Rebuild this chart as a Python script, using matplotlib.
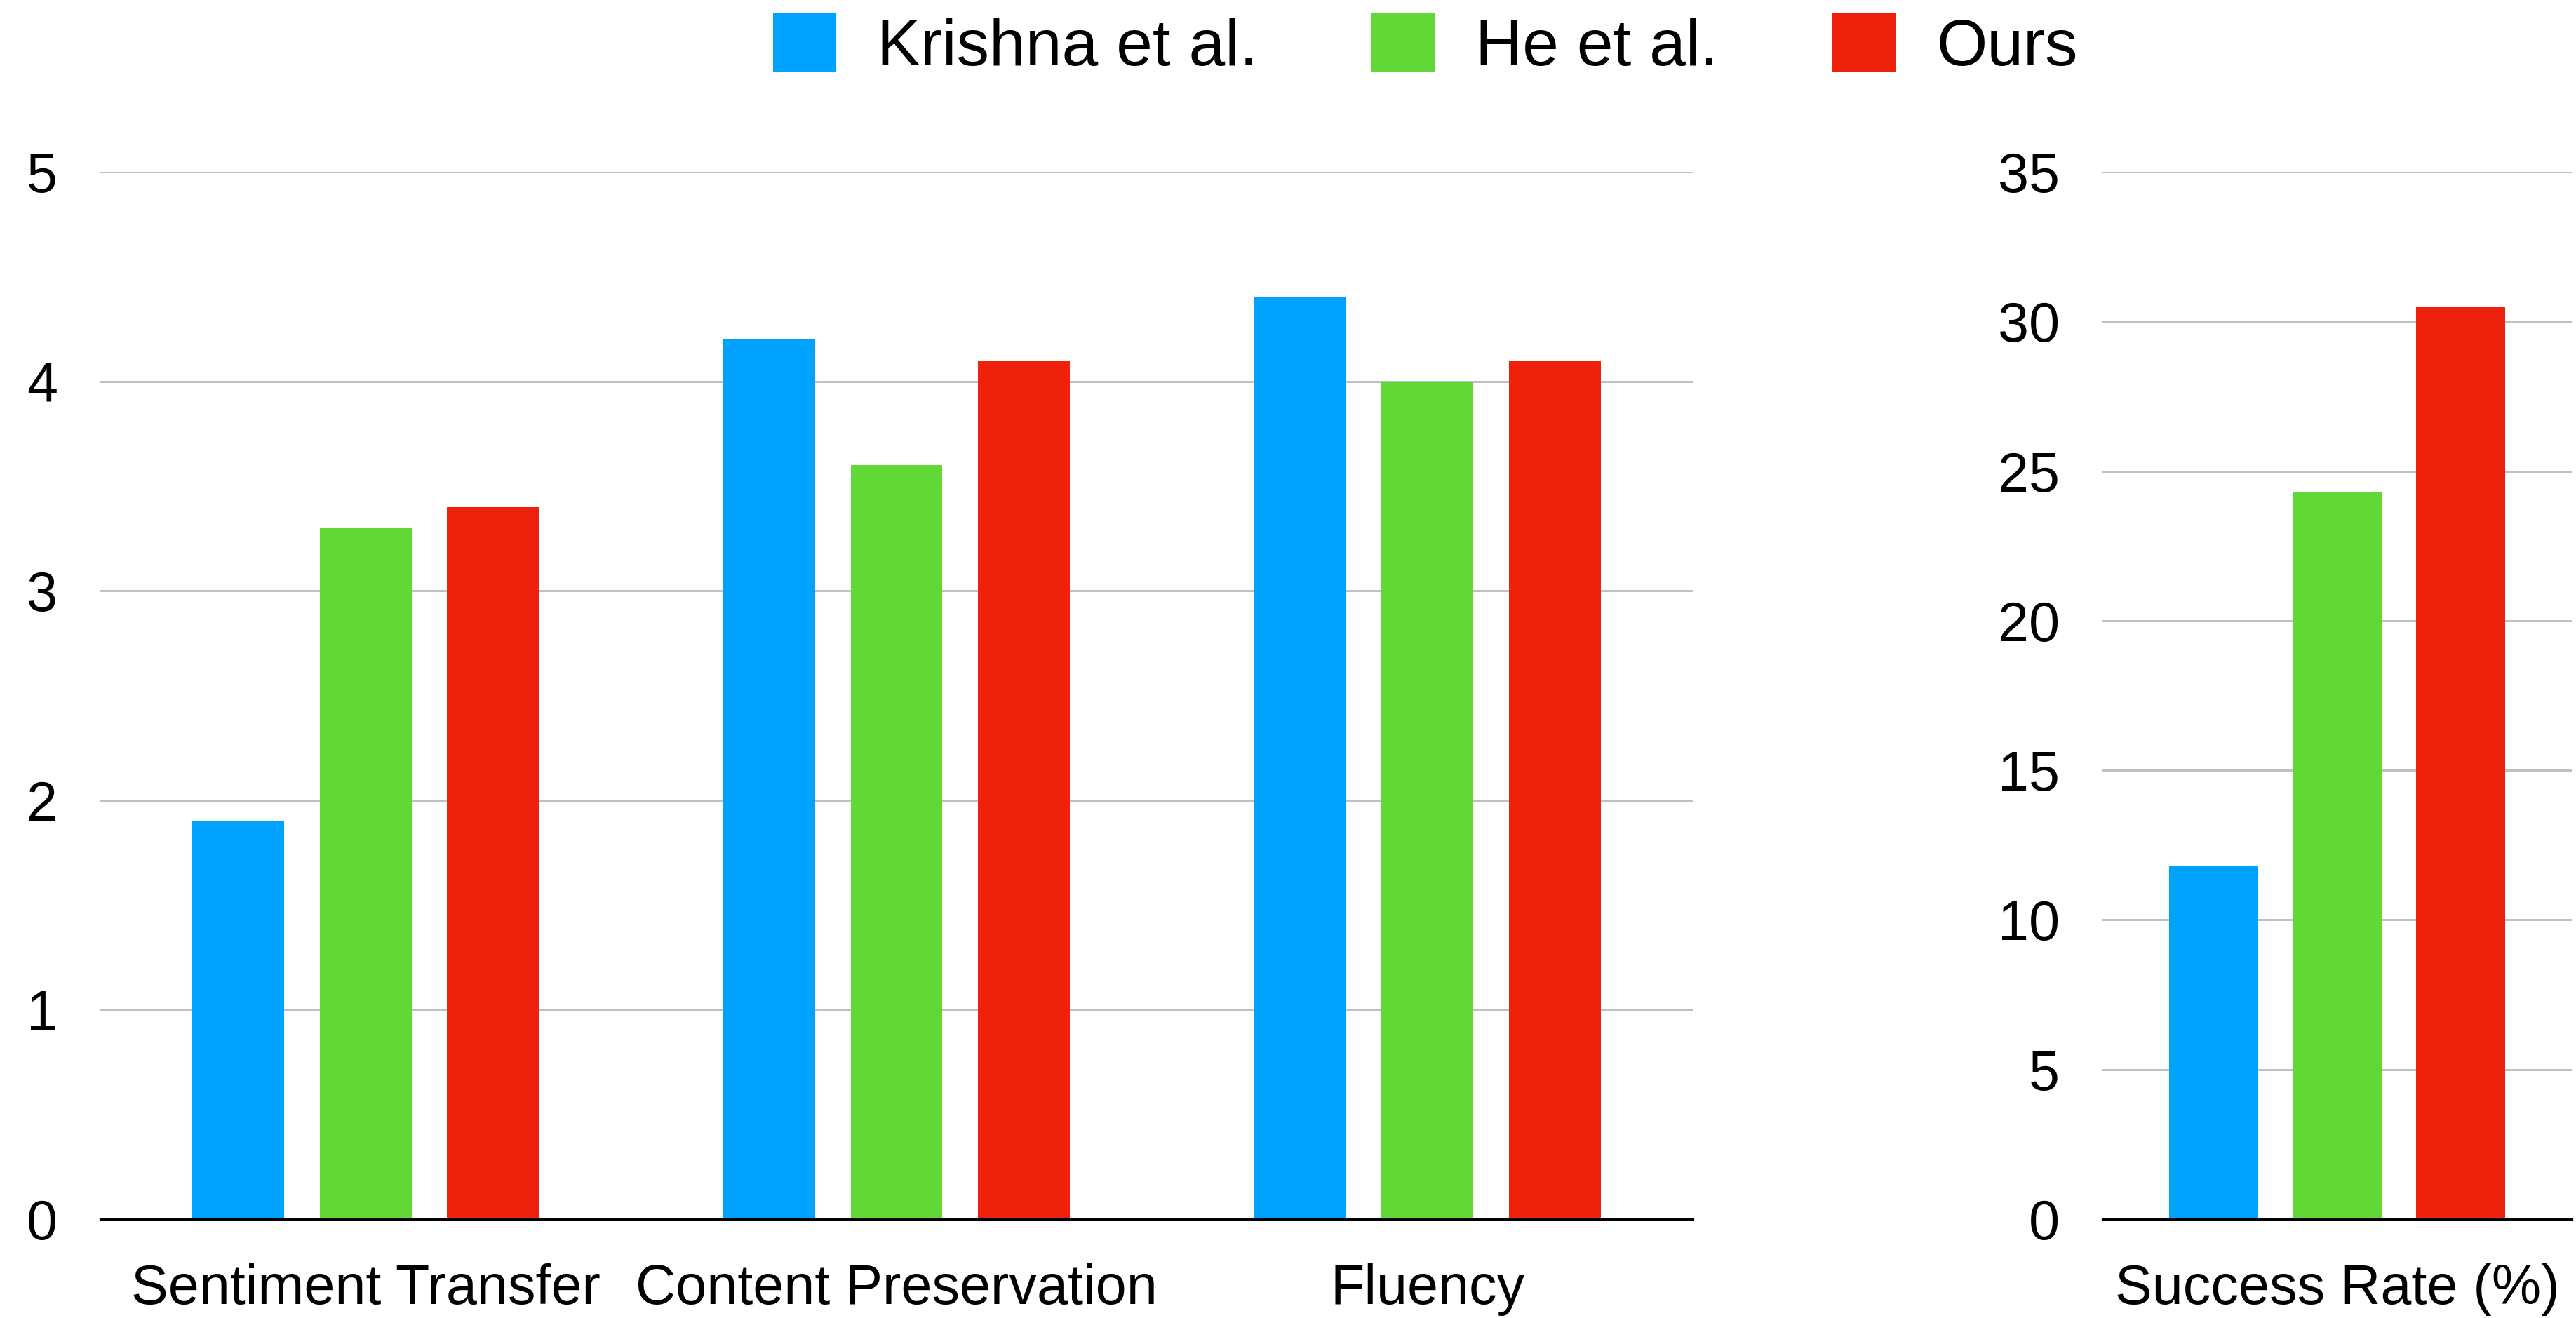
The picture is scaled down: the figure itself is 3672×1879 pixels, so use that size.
import numpy as np
import matplotlib
matplotlib.use("Agg")
import matplotlib.pyplot as plt

plt.rcParams['font.family'] = ['Liberation Sans', 'DejaVu Sans']

# human evaluation scores (1-5) and success rate
methods = ['Krishna et al.', 'He et al.', 'Ours']
colors = ['#00A2FF', '#61D836', '#EE220C']
criteria = ['Sentiment Transfer', 'Content Preservation', 'Fluency']
krishna = [1.9, 4.2, 4.4]
he = [3.3, 3.6, 4.0]
ours = [3.4, 4.1, 4.1]
success_label = ['Success Rate (%)']
success = [11.8, 24.3, 30.5]

fig = plt.figure(figsize=(36.72, 18.79), dpi=100)
ax1 = fig.add_axes([143/3672, 1 - 1738/1879, (2413-143)/3672, (1738-245)/1879])
ax2 = fig.add_axes([2997/3672, 1 - 1738/1879, (3666-2997)/3672, (1738-245)/1879])

def style(ax, ticks):
    ax.set_yticks(ticks)
    ax.yaxis.grid(True, color='#bfbfbf', linewidth=2.1)
    ax.set_axisbelow(True)
    for s in ['top', 'right', 'left']:
        ax.spines[s].set_visible(False)
    ax.spines['bottom'].set_linewidth(2.3)
    ax.spines['bottom'].set_color('black')
    ax.tick_params(axis='both', length=0, labelsize=57)
    ax.tick_params(axis='y', pad=44)
    ax.tick_params(axis='x', pad=45)

x = np.arange(len(criteria))
bars = []
for k, vals in enumerate([krishna, he, ours]):
    b = ax1.bar(x + (k-1)*0.24, vals, width=0.173, color=colors[k], label=methods[k])
    bars.append(b)
ax1.set_xlim(-0.5, 2.5)
ax1.set_ylim(0, 5)
ax1.set_xticks(x)
ax1.set_xticklabels(criteria)
style(ax1, np.arange(0, 6, 1))

for k in range(3):
    ax2.bar(0 + (k-1)*0.263, success[k], width=0.191, color=colors[k])
ax2.set_xlim(-0.5, 0.5)
ax2.set_ylim(0, 35)
ax2.set_xticks([0])
ax2.set_xticklabels(success_label)
style(ax2, np.arange(0, 40, 5))

fig.legend(handles=bars, labels=methods, loc='center', bbox_to_anchor=(0.5533, 0.9654),
           ncol=3, frameon=False, fontsize=67, handlelength=0.97, handleheight=1.02,
           handletextpad=0.62, columnspacing=1.75, borderpad=0, borderaxespad=0)

fig.savefig('out.png', dpi=100, facecolor='white')
